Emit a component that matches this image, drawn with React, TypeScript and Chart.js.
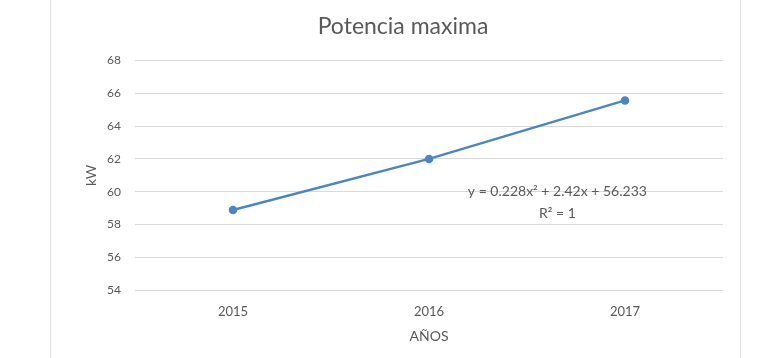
import React, { useEffect, useRef } from "react";
import { Chart, registerables } from "chart.js";

Chart.register(...registerables);

const years = ["2015", "2016", "2017"];
const potencia = [58.88, 62.0, 65.57];
const yTicks = [54, 56, 58, 60, 62, 64, 66, 68];
const trendLines = ["y = 0.228x² + 2.42x + 56.233", "R² = 1"];

const FONT = "Lato, 'Open Sans', sans-serif";
const GRAY = "#595959";

export default function App() {
  const ref = useRef<HTMLCanvasElement | null>(null);

  useEffect(() => {
    document.body.style.margin = "0";
    const canvas = ref.current;
    if (!canvas) return;

    const framePlugin = {
      id: "frame",
      beforeDraw(chart: any) {
        const ctx = chart.ctx;
        ctx.save();
        ctx.fillStyle = "#ffffff";
        ctx.fillRect(0, 0, chart.width, chart.height);
        ctx.strokeStyle = "#e2e2e2";
        ctx.lineWidth = 1;
        ctx.beginPath();
        ctx.moveTo(50.5, 0);
        ctx.lineTo(50.5, chart.height);
        ctx.moveTo(740.5, 0);
        ctx.lineTo(740.5, chart.height);
        ctx.stroke();
        ctx.restore();
      },
    };

    const trendPlugin = {
      id: "trendLabel",
      afterDatasetsDraw(chart: any) {
        const ctx = chart.ctx;
        const xs = chart.scales.x;
        const ys = chart.scales.y;
        const cx = xs.getPixelForValue(1.655);
        ctx.save();
        ctx.font = `14px ${FONT}`;
        ctx.fillStyle = GRAY;
        ctx.textAlign = "center";
        ctx.textBaseline = "middle";
        ctx.fillText(trendLines[0], cx, ys.getPixelForValue(60.0));
        ctx.fillText(trendLines[1], cx, ys.getPixelForValue(58.65));
        ctx.restore();
      },
    };

    const chart = new Chart(canvas, {
      type: "line",
      data: {
        labels: years,
        datasets: [
          {
            label: "Potencia",
            data: potencia,
            borderColor: "#4a86c5",
            backgroundColor: "#4a86c5",
            borderWidth: 2.5,
            pointRadius: 3,
            pointBackgroundColor: "#4a86c5",
            pointBorderColor: "#4a86c5",
            tension: 0,
          },
        ],
      },
      options: {
        animation: false,
        responsive: false,
        maintainAspectRatio: false,
        layout: { padding: { left: 83, right: 40, top: 0, bottom: 8 } },
        plugins: {
          legend: { display: false },
          tooltip: { enabled: false },
          title: {
            display: true,
            text: "Potencia maxima",
            color: GRAY,
            font: { family: FONT, size: 23, weight: "normal" },
            padding: { top: 13, bottom: 20 },
          },
        },
        scales: {
          x: {
            offset: true,
            grid: { display: false },
            border: { display: false },
            ticks: {
              color: GRAY,
              font: { family: FONT, size: 13 },
              padding: 6,
            },
            title: {
              display: true,
              text: "AÑOS",
              color: GRAY,
              font: { family: FONT, size: 14 },
              padding: { top: 0, bottom: 5 },
            },
            afterFit(scale: any) {
              scale.height = 60;
            },
          },
          y: {
            min: 54,
            max: 68,
            afterBuildTicks(scale: any) {
              scale.ticks = yTicks.map((v) => ({ value: v }));
            },
            grid: { color: "#d9d9d9", drawTicks: false },
            border: { display: false },
            ticks: {
              color: GRAY,
              font: { family: FONT, size: 12 },
              padding: 14,
            },
            title: {
              display: true,
              text: "kW",
              color: GRAY,
              font: { family: FONT, size: 14 },
              padding: { top: 0, bottom: 0 },
            },
            afterFit(scale: any) {
              scale.width = 52;
            },
          },
        },
      },
      plugins: [framePlugin, trendPlugin],
    });

    return () => chart.destroy();
  }, []);

  return (
    <div style={{ width: 763, height: 358 }}>
      <canvas ref={ref} width={763} height={358} style={{ display: "block" }} />
    </div>
  );
}
